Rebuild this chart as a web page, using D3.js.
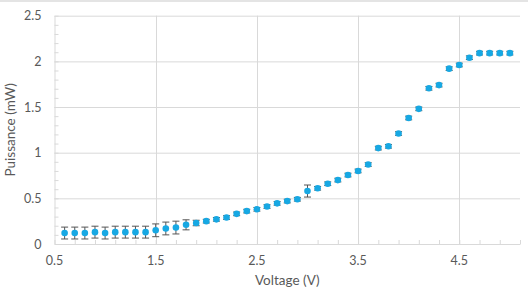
<!DOCTYPE html>
<html>
<head>
<meta charset="utf-8">
<style>
  html, body { margin: 0; padding: 0; background: #fff; }
  svg { display: block; }
</style>
</head>
<body>
<div id="container"></div>
<script src="https://cdn.jsdelivr.net/npm/d3@7/dist/d3.min.js"></script>
<script>
// data
const voltage = [0.6, 0.7, 0.8, 0.9, 1.0, 1.1, 1.2, 1.3, 1.4, 1.5,
                 1.6, 1.7, 1.8, 1.9, 2.0, 2.1, 2.2, 2.3, 2.4, 2.5,
                 2.6, 2.7, 2.8, 2.9, 3.0, 3.1, 3.2, 3.3, 3.4, 3.5,
                 3.6, 3.7, 3.8, 3.9, 4.0, 4.1, 4.2, 4.3, 4.4, 4.5,
                 4.6, 4.7, 4.8, 4.9, 5.0];
const power = [0.12, 0.12, 0.12, 0.13, 0.12, 0.13, 0.13, 0.13, 0.13, 0.15,
               0.17, 0.18, 0.21, 0.23, 0.25, 0.27, 0.29, 0.33, 0.36, 0.38,
               0.41, 0.445, 0.47, 0.49, 0.58, 0.61, 0.66, 0.70, 0.755, 0.80,
               0.87, 1.05, 1.07, 1.21, 1.38, 1.48, 1.705, 1.74, 1.92, 1.96,
               2.04, 2.09, 2.09, 2.09, 2.09];
const errors = [0.065, 0.065, 0.065, 0.065, 0.065, 0.065, 0.065, 0.065, 0.065, 0.07,
                0.07, 0.07, 0.055, 0.03, 0.02, 0.02, 0.02, 0.02, 0.02, 0.02,
                0.02, 0.02, 0.02, 0.02, 0.066, 0.02, 0.02, 0.02, 0.02, 0.02,
                0.02, 0.02, 0.02, 0.02, 0.02, 0.02, 0.02, 0.02, 0.02, 0.02,
                0.02, 0.02, 0.02, 0.02, 0.02];
const xTicks = [0.5, 1.5, 2.5, 3.5, 4.5];
const yTicks = [0, 0.5, 1, 1.5, 2, 2.5];

const width = 528;
const height = 291;
const marginTop = 15.7;
const marginRight = 8;
const marginBottom = 47;
const marginLeft = 54.5;

const font = "Lato, 'Open Sans', sans-serif";
const textColor = "#595959";
const gridColor = "#d9d9d9";
const dotColor = "#17a8e3";

const data = voltage.map((v, i) => ({v: v, p: power[i], e: errors[i]}));

const x = d3.scaleLinear()
    .domain([0.5, 5.1])
    .range([marginLeft, width - marginRight]);

const y = d3.scaleLinear()
    .domain([0, 2.5])
    .range([height - marginBottom, marginTop]);

const svg = d3.create("svg")
    .attr("width", width)
    .attr("height", height);

// thin grey band at the top
svg.append("rect")
    .attr("x", 0).attr("y", 0)
    .attr("width", width).attr("height", 2)
    .attr("fill", "#e4e4e4");

// gridlines
svg.append("g")
    .selectAll("line")
    .data(yTicks.slice(1))
    .join("line")
    .attr("x1", x(0.5)).attr("x2", x(5.1))
    .attr("y1", d => y(d) + 0.5).attr("y2", d => y(d) + 0.5)
    .attr("stroke", gridColor);

svg.append("g")
    .selectAll("line")
    .data(xTicks.slice(1))
    .join("line")
    .attr("x1", d => Math.round(x(d)) + 0.5).attr("x2", d => Math.round(x(d)) + 0.5)
    .attr("y1", y(2.5)).attr("y2", y(0))
    .attr("stroke", gridColor);

// x axis: minor ticks every 0.2, labels on the majors
const xAxis = svg.append("g")
    .attr("transform", `translate(0,${y(0)})`)
    .call(d3.axisBottom(x).tickValues(d3.range(0.5, 5.15, 0.2)).tickSizeInner(-4).tickSizeOuter(0).tickFormat(""));
xAxis.select(".domain").attr("stroke", gridColor);
xAxis.selectAll(".tick line").attr("stroke", gridColor);

svg.append("g")
    .selectAll("text")
    .data(xTicks)
    .join("text")
    .attr("x", d => x(d))
    .attr("y", y(0) + 21)
    .attr("text-anchor", "middle")
    .attr("font-family", font)
    .attr("font-size", 12.5)
    .attr("fill", textColor)
    .text(d => d);

// y axis: minor ticks every 0.1
const yAxis = svg.append("g")
    .attr("transform", `translate(${x(0.5)},0)`)
    .call(d3.axisLeft(y).tickValues(d3.range(0, 2.55, 0.1)).tickSizeInner(-4).tickSizeOuter(0).tickFormat(""));
yAxis.select(".domain").attr("stroke", gridColor);
yAxis.selectAll(".tick line").attr("stroke", gridColor);

svg.append("g")
    .selectAll("text")
    .data(yTicks)
    .join("text")
    .attr("x", marginLeft - 13)
    .attr("y", d => y(d) + 4.5)
    .attr("text-anchor", "end")
    .attr("font-family", font)
    .attr("font-size", 12.5)
    .attr("fill", textColor)
    .text(d => d);

// error bars
const bars = svg.append("g")
    .attr("stroke", "#555")
    .attr("stroke-width", 1)
    .selectAll("g")
    .data(data)
    .join("g");

bars.append("line")
    .attr("x1", d => x(d.v)).attr("x2", d => x(d.v))
    .attr("y1", d => y(d.p + d.e)).attr("y2", d => y(d.p - d.e));
bars.append("line")
    .attr("x1", d => x(d.v) - 3.5).attr("x2", d => x(d.v) + 3.5)
    .attr("y1", d => y(d.p + d.e)).attr("y2", d => y(d.p + d.e));
bars.append("line")
    .attr("x1", d => x(d.v) - 3.5).attr("x2", d => x(d.v) + 3.5)
    .attr("y1", d => y(d.p - d.e)).attr("y2", d => y(d.p - d.e));

// points
svg.append("g")
    .selectAll("circle")
    .data(data)
    .join("circle")
    .attr("cx", d => x(d.v))
    .attr("cy", d => y(d.p))
    .attr("r", 3.3)
    .attr("fill", dotColor);

// axis titles
svg.append("text")
    .attr("x", (x(0.5) + x(5.1)) / 2)
    .attr("y", height - 6)
    .attr("text-anchor", "middle")
    .attr("font-family", font)
    .attr("font-size", 13.5)
    .attr("fill", textColor)
    .text("Voltage (V)");

svg.append("text")
    .attr("transform", `translate(15,${(y(0) + y(2.5)) / 2}) rotate(-90)`)
    .attr("text-anchor", "middle")
    .attr("font-family", font)
    .attr("font-size", 13.5)
    .attr("fill", textColor)
    .text("Puissance (mW)");

container.append(svg.node());
</script>
</body>
</html>
